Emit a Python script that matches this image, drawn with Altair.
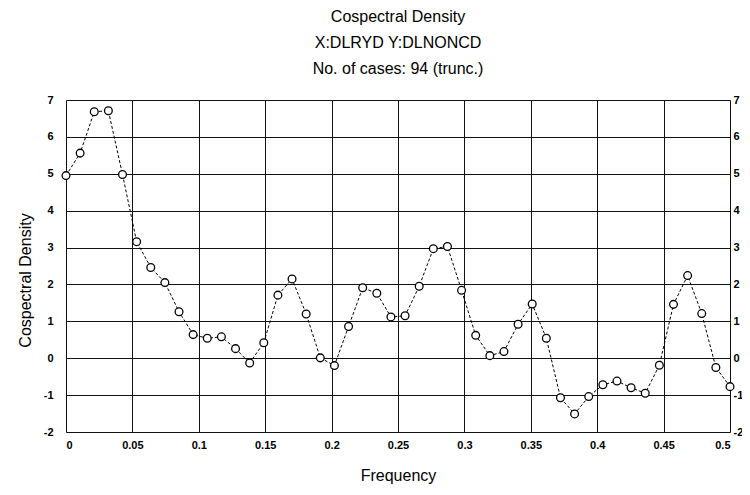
import altair as alt
import pandas as pd

freq = [0.0, 0.01064, 0.02128, 0.03191, 0.04255, 0.05319, 0.06383, 0.07447,
        0.08511, 0.09574, 0.10638, 0.11702, 0.12766, 0.13830, 0.14894, 0.15957,
        0.17021, 0.18085, 0.19149, 0.20213, 0.21277, 0.22340, 0.23404, 0.24468,
        0.25532, 0.26596, 0.27660, 0.28723, 0.29787, 0.30851, 0.31915, 0.32979,
        0.34043, 0.35106, 0.36170, 0.37234, 0.38298, 0.39362, 0.40426, 0.41489,
        0.42553, 0.43617, 0.44681, 0.45745, 0.46809, 0.47872, 0.48936, 0.5]
density = [4.95, 5.56, 6.68, 6.71, 4.98, 3.16, 2.46, 2.05,
           1.26, 0.64, 0.54, 0.58, 0.26, -0.13, 0.42, 1.71,
           2.15, 1.20, 0.01, -0.20, 0.86, 1.91, 1.76, 1.12,
           1.15, 1.95, 2.97, 3.03, 1.84, 0.62, 0.07, 0.18,
           0.92, 1.47, 0.54, -1.07, -1.51, -1.04, -0.72, -0.62,
           -0.80, -0.95, -0.19, 1.46, 2.24, 1.21, -0.25, -0.77]
x_ticks = [0, 0.05, 0.1, 0.15, 0.2, 0.25, 0.3, 0.35, 0.4, 0.45, 0.5]
y_ticks = [-2, -1, 0, 1, 2, 3, 4, 5, 6, 7]
title_lines = ["Cospectral Density", "X:DLRYD Y:DLNONCD", "No. of cases: 94 (trunc.)"]

df = pd.DataFrame({"freq": freq, "density": density})

FONT = "Liberation Sans"

xenc = alt.X("freq:Q",
             scale=alt.Scale(domain=[0, 0.5], nice=False, zero=False),
             axis=alt.Axis(values=x_ticks, format=".2~f", title="Frequency",
                           grid=True, gridColor="#111", gridWidth=1, gridOpacity=1,
                           ticks=False, tickSize=0, domain=False,
                           labelFont=FONT, labelFontSize=11, labelFontWeight="bold",
                           labelColor="#000", labelPadding=7,
                           titleFont=FONT, titleFontSize=16, titleFontWeight="normal",
                           titleColor="#000", titleY=35))

yscale = alt.Scale(domain=[-2, 7], nice=False, zero=False)

line = alt.Chart(df).mark_line(color="#000", strokeWidth=1, strokeDash=[3, 2]).encode(
    x=xenc,
    y=alt.Y("density:Q", scale=yscale,
            axis=alt.Axis(values=y_ticks, title="Cospectral Density", orient="left",
                          labelExpr="'' + datum.value",
                          grid=True, gridColor="#111", gridWidth=1, gridOpacity=1,
                          ticks=False, tickSize=0, domain=False,
                          labelFont=FONT, labelFontSize=11, labelFontWeight="bold",
                          labelColor="#000", labelPadding=13,
                          titleFont=FONT, titleFontSize=16, titleFontWeight="normal",
                          titleColor="#000", titleX=-33, titleY=180)),
)

points = alt.Chart(df).mark_point(shape="circle", filled=True, fill="#fff",
                                  stroke="#000", strokeWidth=1.3, size=60,
                                  opacity=1).encode(
    x=alt.X("freq:Q", scale=alt.Scale(domain=[0, 0.5], nice=False, zero=False)),
    y=alt.Y("density:Q", scale=yscale,
            axis=alt.Axis(values=y_ticks, title=None, orient="right", grid=False,
                          labelExpr="'' + datum.value",
                          ticks=False, tickSize=0, domain=False,
                          labelFont=FONT, labelFontSize=11, labelFontWeight="bold",
                          labelColor="#000", labelPadding=3)),
)

chart = alt.layer(line, points).resolve_axis(y="independent").properties(
    width=664, height=332,
    autosize=alt.AutoSizeParams(type="none"),
    padding={"left": 58, "top": 92, "right": 12, "bottom": 55},
    title=alt.Title(title_lines, font=FONT, fontSize=16, fontWeight="normal",
                    color="#000", lineHeight=26, offset=17, anchor="middle",
                    frame="group"),
).configure_view(stroke="#000", strokeWidth=1.5).configure(background="#fff")

chart.save("out.html", embed_options={"renderer": "svg", "actions": False})
